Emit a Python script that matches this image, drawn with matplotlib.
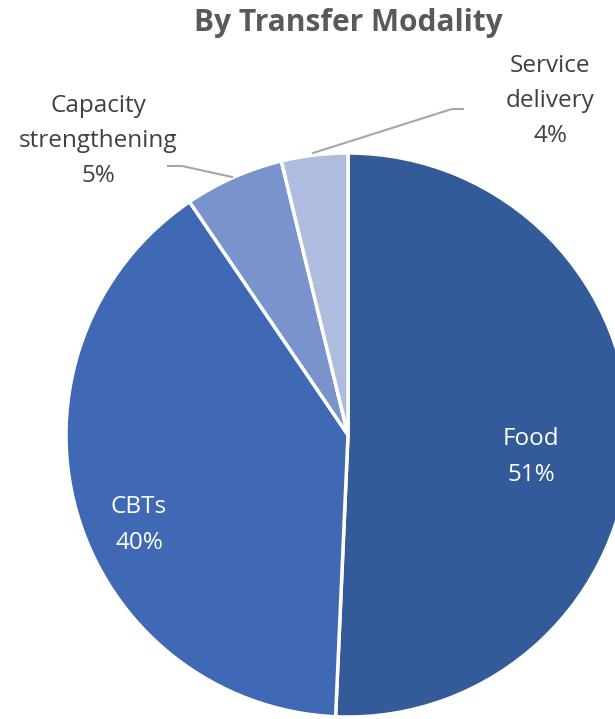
import matplotlib.pyplot as plt

# data
categories = ['Food', 'CBTs', 'Capacity\nstrengthening', 'Service\ndelivery']
shares = [50.7, 39.8, 5.7, 3.8]
pct_labels = ['51%', '40%', '5%', '4%']
colors = ['#335A99', '#4069B5', '#7A93CC', '#B0BCDE']

W, H = 615, 719
fig = plt.figure(figsize=(W / 100, H / 100), dpi=100)
ax = fig.add_axes([0, 0, 1, 1])

# pie in pixel coords (y axis flipped, so draw counterclockwise to get clockwise on screen)
cx, cy, r = 348, 435, 282
ax.pie(shares, colors=colors, startangle=-90, counterclock=True,
       center=(cx, cy), radius=r, frame=True,
       wedgeprops=dict(edgecolor='white', linewidth=2.5))
ax.set_xlim(0, W)
ax.set_ylim(H, 0)
ax.set_aspect('equal')
ax.axis('off')

fnt = 'Open Sans'
ax.text(348, 23, 'By Transfer Modality', ha='center', va='center',
        fontsize=21.5, fontweight='bold', color='#595959', family=fnt)

lab = dict(fontsize=17.5, family=fnt, linespacing=1.62, ha='center', va='center')
# inside labels
ax.text(531, 457, categories[0] + '\n' + pct_labels[0], color='white', **lab)
ax.text(139, 525, categories[1] + '\n' + pct_labels[1], color='white', **lab)

# outside labels
ax.text(98, 141, categories[2] + '\n' + pct_labels[2], color='#404040', **lab)
ax.text(550, 101, categories[3] + '\n' + pct_labels[3], color='#404040', **lab)

# leader lines
ax.plot([168, 182, 232], [166, 166, 177], color='#A6A6A6', lw=1.5)
ax.plot([313, 452, 463], [153, 109, 109], color='#A6A6A6', lw=1.5)

fig.savefig('out.png', dpi=100)
